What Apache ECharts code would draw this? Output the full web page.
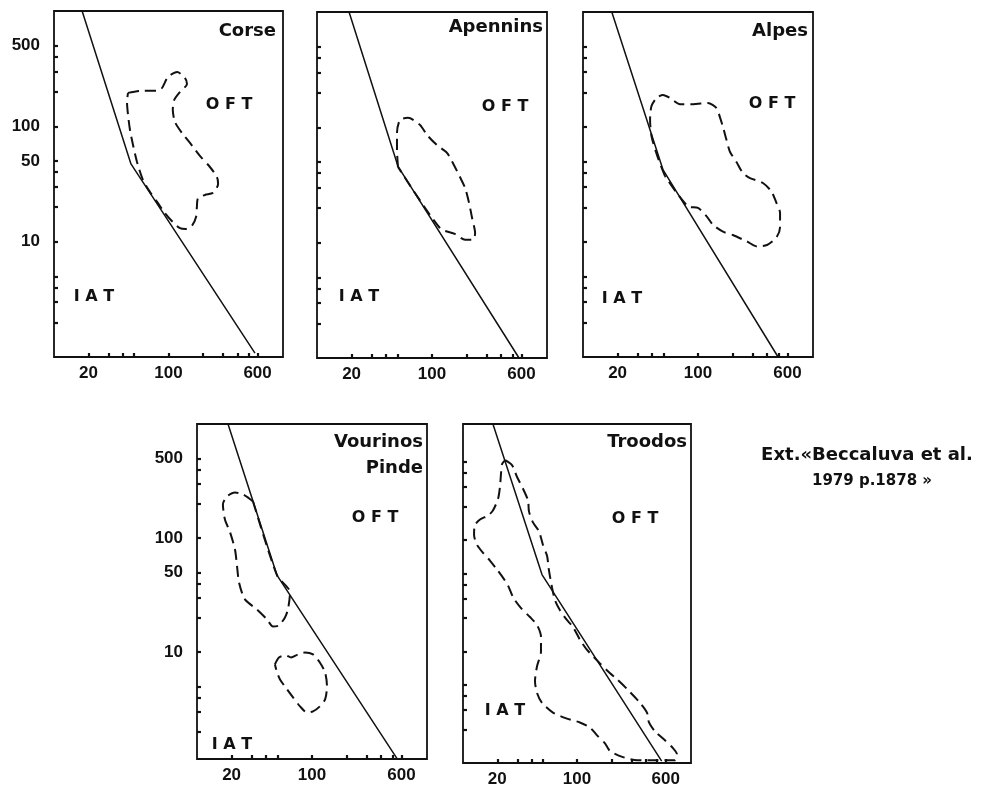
<!DOCTYPE html>
<html>
<head>
<meta charset="utf-8">
<script src="https://cdn.jsdelivr.net/npm/echarts@6/dist/echarts.min.js"></script>
<style>
html,body{margin:0;padding:0;background:#fff;}
#chart{width:991px;height:788px;}
</style>
</head>
<body>
<div id="chart"></div>
<script>
// ---- tick labels / tick marks ----
const xTickLabels = [20, 100, 600];
const yTickLabels = [10, 50, 100, 500];
const xTickMarks = [20, 30, 40, 50, 100, 200, 300, 400, 500, 600];
const yTickMarks = [2, 3, 4, 5, 10, 20, 30, 40, 50, 100, 200, 300, 400, 500];

// ---- panel names ----
const panelNames = ['Corse', 'Apennins', 'Alpes', 'Vourinos\nPinde', 'Troodos'];
const fieldLabels = ['O F T', 'I A T'];
const citation = ['Ext.«Beccaluva et al.', '1979 p.1878 »'];

// ---- discrimination boundary (solid line), [x, y] ----
const corseBoundary = [[17.6, 1000], [47, 47.2], [569, 1.08]];
const apenninsBoundary = [[19, 1000], [50.6, 45.9], [571, 1]];
const alpesBoundary = [[17.8, 1000], [49.7, 42.3], [497, 1]];
const vourinosBoundary = [[18.6, 1000], [49.7, 46.9], [549, 1.16]];
const troodosBoundary = [[18.3, 1100], [49.3, 49], [553, 1.04]];

// ---- dashed fields, [x, y] ----
const corseField = [[44.3,195],[56.4,203],[79.5,203],[87.8,215],[99,268],[119,296],[139,263],[145,233],[126,199],[112,169],[109,139],[114,109],[131,87.6],[154,71.8],[188,55.4],[230,44.4],[265,36.4],[271,31.7],[245,26.5],[208,25.4],[181,23.9],[177,20.0],[174,16.4],[160,13.7],[142,12.9],[126,13.1],[109,14.8],[93,17.7],[79.5,22.1],[68.9,27.0],[59.8,34.3],[53.1,49.1],[49.0,69],[46.1,93],[44.3,126],[43.4,163],[44.3,195]];

const apenninsField = [[50.6,45.4],[49.6,63.7],[49.6,89.4],[52.7,116],[61.8,121],[78.7,105],[90.5,85.9],[110,70.4],[135,60.0],[155,47.2],[175,37.1],[194,29.8],[210,22.1],[223,16.4],[237,12.1],[228,10.6],[194,10.6],[158,11.9],[117,13.4],[50.6,45.4]];

const alpesField = [[51.6,37.5],[47.6,45.8],[43.1,60.6],[39.4,83.5],[38.3,115],[39.4,152],[43.6,179],[49.6,190],[57.1,179],[69.7,158],[90.5,158],[122,162],[145,146],[155,122],[165,100],[177,77.1],[190,60.6],[216,49.6],[246,39.8],[283,36.0],[367,32.6],[435,27.5],[482,21.8],[517,17.9],[517,13.5],[482,11.0],[398,9.42],[326,9.14],[267,10.1],[201,11.5],[165,12.3],[135,14.1],[119,16.7],[100,19.8],[81.8,20.4],[51.6,37.5]];

const vourinosFieldUpper = [[30.7,209],[25.1,241],[21.4,251],[18.2,231],[16.8,197],[17.5,145],[19.4,112],[21.4,79.3],[22.3,56.2],[23.2,40.7],[26.1,28.9],[33.2,23.6],[40.6,19.3],[45.8,16.7],[51.6,17.1],[58.2,20.1],[61.8,23.6],[64.4,33.3],[49.7,46.9],[30.7,209]];

const vourinosFieldLower = [[47.6,7.77],[51.6,8.95],[59.4,9.32],[65.7,8.95],[75.5,9.51],[86.9,9.9],[102,9.51],[117,8.09],[130,6.61],[135,4.98],[130,3.83],[117,3.33],[102,3.01],[90.5,2.94],[78.7,3.33],[68.4,3.99],[60.7,4.69],[52.7,5.74],[49.7,6.61],[47.6,7.77]];

const troodosField = [[23.4,521],[26.9,471],[29.8,368],[33.6,289],[37.2,226],[37.9,181],[41.1,144],[46.4,120],[50.3,90.3],[54.6,72.2],[56.8,53.2],[60.4,37.6],[64.1,28.8],[70.9,23.5],[80.1,19.6],[92.2,16.6],[106,12.8],[122,10.4],[159,7.83],[195,6.39],[224,5.65],[275,4.61],[357,3.47],[411,2.83],[428,2.31],[483,1.92],[579,1.63],[695,1.36],[753,1.20],[724,1.06],[437,1.06],[336,1.06],[253,1.13],[195,1.28],[176,1.50],[150,1.77],[130,2.08],[106,2.31],[81.7,2.50],[61.5,2.83],[49.3,3.47],[44.6,4.25],[42.8,5.43],[44.6,7.37],[48.3,10],[48.3,13.6],[44.6,17.3],[38.7,20.4],[32.3,24.5],[27.5,30.7],[24.8,39.2],[22.4,46.1],[19.9,54.3],[17.3,65.2],[15.0,76.7],[13.3,90.3],[12.5,111],[12.7,136],[14.1,153],[16.6,166],[18.3,184],[20.3,235],[21.1,300],[21.6,408],[22.0,480],[23.4,521]];

// ---- layout ----
const INK = '#111';
const FONT_NUM = 'Liberation Sans';
const FONT_TXT = 'DejaVu Sans';

const panels = [
  { grid:{left:54, top:11, width:229, height:346}, yMin:1, yMax:1000, yLabels:true,
    boundary:corseBoundary, fields:[corseField],
    name:{x:276, y:31, align:'right'}, oft:[229,105], iat:[94,297] },
  { grid:{left:317, top:12, width:230, height:346}, yMin:1, yMax:1000, yLabels:false,
    boundary:apenninsBoundary, fields:[apenninsField],
    name:{x:543, y:27, align:'right'}, oft:[505,107], iat:[359,297] },
  { grid:{left:583, top:12, width:230, height:345}, yMin:1, yMax:1000, yLabels:false,
    boundary:alpesBoundary, fields:[alpesField],
    name:{x:808, y:31, align:'right'}, oft:[772,104], iat:[622,299] },
  { grid:{left:197, top:424, width:230, height:335}, yMin:1.15, yMax:1000, yLabels:true,
    boundary:vourinosBoundary, fields:[vourinosFieldUpper, vourinosFieldLower],
    name:{x:423, y:455, align:'right', lh:26}, oft:[375,518], iat:[232,745] },
  { grid:{left:463, top:424, width:228, height:344}, yMin:1, yMax:1100, yLabels:false,
    boundary:troodosBoundary, fields:[troodosField],
    name:{x:687, y:442, align:'right'}, oft:[635,519], iat:[505,711] }
];

const option = {
  animation:false,
  backgroundColor:'#fff',
  grid:[], xAxis:[], yAxis:[], series:[], graphic:[]
};

panels.forEach((p, i) => {
  option.grid.push(Object.assign({show:true, borderColor:INK, borderWidth:1.8, backgroundColor:'transparent', containLabel:false}, p.grid));
  option.xAxis.push({
    type:'log', logBase:10, gridIndex:i, min:10, max:1000,
    axisLine:{show:false}, splitLine:{show:false},
    axisTick:{show:true, inside:true, length:4, customValues:xTickMarks, lineStyle:{color:INK, width:2.2}},
    axisLabel:{show:true, customValues:xTickLabels, formatter:v => String(Math.round(v)),
      color:INK, fontFamily:FONT_NUM, fontWeight:'bold', fontSize:17, margin:8}
  });
  option.yAxis.push({
    type:'log', logBase:10, gridIndex:i, min:p.yMin, max:p.yMax,
    axisLine:{show:false}, splitLine:{show:false},
    axisTick:{show:true, inside:true, length:4, customValues:yTickMarks, lineStyle:{color:INK, width:2.2}},
    axisLabel:{show:p.yLabels, customValues:yTickLabels, formatter:v => String(Math.round(v)),
      color:INK, fontFamily:FONT_NUM, fontWeight:'bold', fontSize:17, margin:14}
  });
  option.series.push({
    type:'line', xAxisIndex:i, yAxisIndex:i, data:p.boundary, symbol:'none', silent:true,
    lineStyle:{color:INK, width:1.5}
  });
  p.fields.forEach(f => option.series.push({
    type:'line', xAxisIndex:i, yAxisIndex:i, data:f, symbol:'none', silent:true, smooth:0.25,
    lineStyle:{color:INK, width:2, type:[11,6]}
  }));
  option.graphic.push({
    type:'text', x:p.name.x, y:p.name.y,
    style:{text:panelNames[i], fill:INK, font:'bold 18px "' + FONT_TXT + '"', textAlign:p.name.align, textVerticalAlign:'middle', lineHeight:p.name.lh || 20}
  });
  option.graphic.push({
    type:'text', x:p.oft[0], y:p.oft[1],
    style:{text:fieldLabels[0], fill:INK, font:'bold 16px "' + FONT_TXT + '"', textAlign:'center', textVerticalAlign:'middle'}
  });
  option.graphic.push({
    type:'text', x:p.iat[0], y:p.iat[1],
    style:{text:fieldLabels[1], fill:INK, font:'bold 16px "' + FONT_TXT + '"', textAlign:'center', textVerticalAlign:'middle'}
  });
});

option.graphic.push({
  type:'text', x:867, y:455,
  style:{text:citation[0], fill:INK, font:'bold 18px "' + FONT_TXT + '"', textAlign:'center', textVerticalAlign:'middle'}
});
option.graphic.push({
  type:'text', x:872, y:481,
  style:{text:citation[1], fill:INK, font:'bold 15px "' + FONT_TXT + '"', textAlign:'center', textVerticalAlign:'middle'}
});

const chart = echarts.init(document.getElementById('chart'), null, {renderer:'canvas'});
chart.setOption(option);
</script>
</body>
</html>
